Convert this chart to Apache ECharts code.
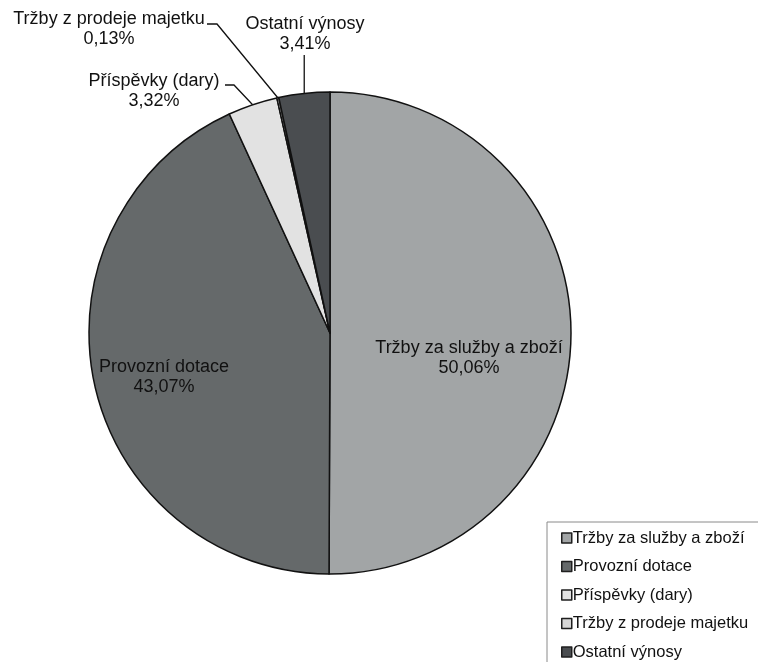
<!DOCTYPE html>
<html>
<head>
<meta charset="utf-8">
<script src="https://cdn.jsdelivr.net/npm/echarts@6/dist/echarts.min.js"></script>
<style>
html,body{margin:0;padding:0;background:#fff;}
#chart{width:758px;height:662px;}
</style>
</head>
<body>
<div id="chart"></div>
<script>
// Data
var categories = ['Tržby za služby a zboží', 'Provozní dotace', 'Příspěvky (dary)', 'Tržby z prodeje majetku', 'Ostatní výnosy'];
var shares = [50.06, 43.07, 3.32, 0.13, 3.41];
var sliceColors = ['#a2a5a6', '#65696a', '#e2e2e2', '#d6d6d6', '#4a4d50'];

// Label layout (text block centres), by slice index
var labelPos = [
  {x: 469, y: 358},
  {x: 164, y: 377},
  {x: 154, y: 91},
  {x: 109, y: 29},
  {x: 305, y: 34}
];
// label line elbows / ends for outside labels
var linePaths = {
  2: [[234, 85], [225, 85]],
  3: [[217, 24], [207, 24]],
  4: [[null, 55]]
};

var chart = echarts.init(document.getElementById('chart'), null, {renderer: 'canvas'});

var dataItems = categories.map(function (c, i) {
  var outside = (i >= 2);
  return {
    name: c,
    value: shares[i],
    itemStyle: {color: sliceColors[i]},
    label: {position: outside ? 'outside' : 'inside'},
    labelLine: {show: outside}
  };
});

var option = {
  animation: false,
  backgroundColor: '#ffffff',
  textStyle: {fontFamily: 'Liberation Sans, Arial, sans-serif'},
  legend: {
    orient: 'vertical',
    left: 547,
    top: 522,
    height: 400,
    data: categories,
    icon: 'rect',
    itemWidth: 10,
    itemHeight: 10,
    itemGap: 10.5,
    backgroundColor: '#ffffff',
    borderColor: '#8a8a8a',
    borderWidth: 1,
    borderRadius: 0,
    padding: [7, 40, 30, 14],
    itemStyle: {borderColor: '#1f1f1f', borderWidth: 1.5},
    textStyle: {
      fontFamily: 'Liberation Sans, Arial, sans-serif',
      fontSize: 16.5,
      lineHeight: 18,
      color: '#111111',
      padding: [0, 0, 0, -4]
    }
  },
  series: [{
    type: 'pie',
    center: [330, 333],
    radius: 241,
    startAngle: 90,
    clockwise: true,
    avoidLabelOverlap: false,
    itemStyle: {borderColor: '#111111', borderWidth: 1.5},
    emphasis: {disabled: true},
    label: {
      show: true,
      fontFamily: 'Liberation Sans, Arial, sans-serif',
      fontSize: 18,
      lineHeight: 20,
      color: '#111111',
      align: 'center',
      formatter: function (p) {
        return p.name + '\n' + p.value.toFixed(2).replace('.', ',') + '%';
      }
    },
    labelLine: {
      show: true,
      length: 20,
      length2: 10,
      lineStyle: {color: '#111111', width: 1.3}
    },
    labelLayout: function (p) {
      var i = p.dataIndex;
      var pos = labelPos[i];
      var res = {x: pos.x, y: pos.y, align: 'center', verticalAlign: 'middle'};
      if (linePaths[i] && p.labelLinePoints) {
        var a = p.labelLinePoints[0];
        var pts = [[a[0], a[1]]];
        linePaths[i].forEach(function (q) {
          pts.push([q[0] == null ? a[0] : q[0], q[1]]);
        });
        res.labelLinePoints = pts;
      }
      return res;
    },
    data: dataItems
  }]
};
chart.setOption(option);
</script>
</body>
</html>
